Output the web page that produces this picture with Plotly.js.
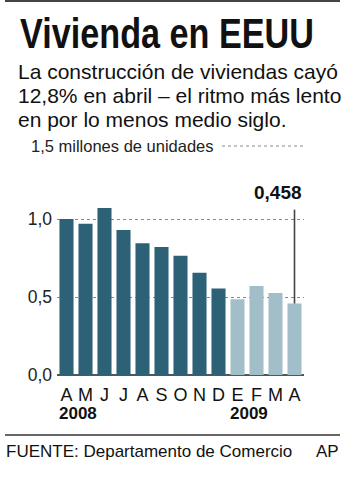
<!DOCTYPE html>
<html><head><meta charset="utf-8">
<script src="https://cdn.plot.ly/plotly-3.0.1.min.js"></script>
<style>html,body{margin:0;padding:0;background:#fff;}#chart{width:356px;height:480px;}</style>
</head><body><div id="chart"></div>
<script>
const months = ["A","M","J","J","A","S","O","N","D","E","F","M","A"];
const values = [1.00,0.97,1.07,0.93,0.845,0.82,0.765,0.655,0.555,0.485,0.57,0.525,0.458];
const years = ["2008","2009"];
const yearStartIndex = [0, 9];
const yTicks = [0, 0.5, 1.0];
const yTickText = ["0,0","0,5","1,0"];
const topLabel = "1,5 millones de unidades";
const subtitleLines = ["La construcción de viviendas cayó","12,8% en abril – el ritmo más lento","en por lo menos medio siglo."];
const DARK = "#2d6276", LIGHT = "#a2bfc9";

const L = 57, R = 304, T = 146, B = 375, W = 356, H = 480;
const px = x => (x - L) / (R - L);
const py = y => (B - y) / (B - T);
const idx = months.map((m,i)=>i);
const last = values.length - 1;
const FONT = "Liberation Sans, Arial, sans-serif";

const trace = {
  type: "bar", x: idx, y: values,
  marker: {color: values.map((v,i)=> i >= yearStartIndex[1] ? LIGHT : DARK)},
  width: 0.74, hoverinfo: "none"
};

const annotations = [
  {text:"<b>Vivienda en EEUU</b>", xref:"paper", yref:"paper", x:px(18), y:py(33), xanchor:"left", yanchor:"middle", showarrow:false,
   font:{family:FONT, size:42, color:"#111"}},
  {text:topLabel, xref:"paper", yref:"paper", x:px(29), y:1, xanchor:"left", yanchor:"middle", showarrow:false,
   font:{family:FONT, size:16.5, color:"#222"}},
  {text:"<b>"+values[last].toFixed(3).replace(".",",")+"</b>", xref:"paper", yref:"y", x:1, y:1.09, xanchor:"right", yanchor:"bottom", showarrow:false,
   font:{family:FONT, size:19, color:"#111"}},
  {text:"FUENTE: Departamento de Comercio", xref:"paper", yref:"paper", x:px(4), y:py(451), xanchor:"left", yanchor:"middle", showarrow:false,
   font:{family:FONT, size:17, color:"#111"}},
  {text:"AP", xref:"paper", yref:"paper", x:px(341), y:py(451), xanchor:"right", yanchor:"middle", showarrow:false,
   font:{family:FONT, size:17, color:"#111"}}
];
subtitleLines.forEach((s,k)=>{
  annotations.push({text:s, xref:"paper", yref:"paper", x:px(16), y:py(71 + 24*k), xanchor:"left", yanchor:"middle", showarrow:false,
    font:{family:FONT, size:21, color:"#111"}});
});
years.forEach((yr,k)=>{
  annotations.push({text:"<b>"+yr+"</b>", xref:"x", yref:"paper", x:yearStartIndex[k]-0.5, y:py(413), xanchor:"left", yanchor:"middle", showarrow:false,
    font:{family:FONT, size:17, color:"#111"}});
});

const shapes = [
  {type:"line", xref:"paper", yref:"paper", x0:px(5), x1:px(340), y0:py(1), y1:py(1), line:{color:"#444", width:2}},
  {type:"line", xref:"paper", yref:"paper", x0:px(222), x1:1, y0:1, y1:1, line:{color:"#888", width:1, dash:"dot"}},
  {type:"line", xref:"x", yref:"y", x0:last, x1:last, y0:values[last], y1:1.06, line:{color:"#444", width:1.6}},
  {type:"line", xref:"paper", yref:"paper", x0:px(5), x1:px(340), y0:py(435), y1:py(435), line:{color:"#333", width:1.5}}
];

const layout = {
  width: W, height: H, margin:{l:L, r:W-R, t:T, b:H-B, pad:0},
  paper_bgcolor:"#fff", plot_bgcolor:"#fff", showlegend:false, bargap:0.26,
  separators: ",.",
  xaxis:{range:[-0.5, last+0.5], tickvals:idx, ticktext:months, showgrid:false, zeroline:false,
    showline:false, ticks:"", tickfont:{family:FONT, size:18, color:"#111"}, ticklabelstandoff:7, fixedrange:true},
  yaxis:{range:[0, (B-T)/((B-219)/1.0)], tickvals:yTicks, ticktext:yTickText, showgrid:true, gridcolor:"#888",
    griddash:"dot", gridwidth:1, zeroline:true, zerolinecolor:"#555", zerolinewidth:1.5, showline:false, ticks:"",
    tickfont:{family:FONT, size:17.5, color:"#222"}, ticklabelstandoff:4, fixedrange:true},
  annotations, shapes
};
Plotly.newPlot("chart", [trace], layout, {staticPlot:true, displayModeBar:false}).then(gd=>{
  const t = gd.querySelector('.annotation[data-index="0"] text');
  if (t) {
    const bb = t.getBBox();
    const s = 294 / bb.width;
    const x0 = bb.x;
    t.setAttribute("transform", `translate(${x0},0) scale(${s},1) translate(${-x0},0)`);
  }
});
</script></body></html>
